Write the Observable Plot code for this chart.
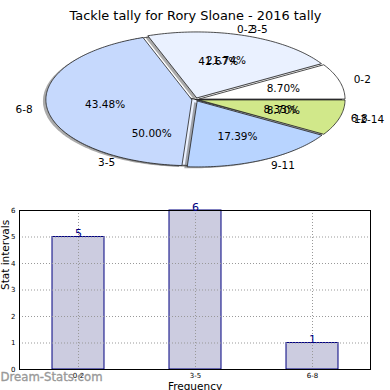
<!DOCTYPE html>
<html><head><meta charset="utf-8">
<script src="https://cdn.jsdelivr.net/npm/d3@7"></script>
<script src="https://cdn.jsdelivr.net/npm/@observablehq/plot@0.6"></script>
<style>
body{margin:0;background:#fff;}
#c{width:390px;height:390px;position:relative;overflow:hidden;}
#c svg{display:block;}
</style>
</head><body><div id="c"></div>
<script>
const title = "Tackle tally for Rory Sloane - 2016 tally";
const pieALabels = ["0-2","3-5","6-8","9-11","12-14"];
const pieAValues = [2,5,10,4,2];
const pieBLabels = ["0-2","3-5","6-8"];
const pieBValues = [5,6,1];
const pieColors = ["#ffffff","#eaf1ff","#c6d9fd","#b8d4ff","#d1e88a"];
const barCategories = ["0-2","3-5","6-8"];
const barValues = [5,6,1];
const yTicks = [0,1,2,3,4,5,6];
const watermark = "Dream-Stats.com";
const yLabel = "Stat intervals";
const xLabel = "Frequency";

function wedges(labels, values, explode) {
  const total = d3.sum(values);
  let start = 0;
  return values.map((v,i) => {
    const a0 = start, a1 = start + v/total*2*Math.PI; start = a1;
    const m = (a0+a1)/2;
    const cx = explode*Math.cos(m), cy = explode*Math.sin(m);
    const pts = [[cx,cy]];
    const n = Math.max(2, Math.ceil((a1-a0)/0.02));
    for (let k=0;k<=n;k++){const a=a0+(a1-a0)*k/n; pts.push([cx+Math.cos(a), cy+Math.sin(a)]);}
    pts.push([cx,cy]);
    return {label: labels[i], pct: (v/total*100).toFixed(2)+"%", color: pieColors[i], pts,
      lx: cx + 1.1*Math.cos(m), ly: cy + 1.1*Math.sin(m),
      px: cx + 0.6*Math.cos(m), py: cy + 0.6*Math.sin(m)};
  });
}

const pieB = wedges(pieBLabels, pieBValues, 0);
const pieA = wedges(pieALabels, pieAValues, 0.025);

const font = "DejaVu Sans";
const pieMarks = [];
for (const pie of [pieB, pieA]) {
  for (const w of pie) {
    pieMarks.push(Plot.line(w.pts, {x: d=>d[0]-0.02, y: d=>d[1]-0.02, fill:"#444", fillOpacity:0.45, stroke:"none"}));
  }
  for (const w of pie) {
    pieMarks.push(Plot.line(w.pts, {x: d=>d[0], y: d=>d[1], fill:w.color, stroke:"#222", strokeWidth:0.8}));
  }
}
const allW = [...pieB, ...pieA];
pieMarks.push(
  Plot.text(allW.filter(w=>w.lx>0), {x:"lx", y:"ly", text:"label", textAnchor:"start", fontSize:10.5, fill:"#000"}),
  Plot.text(allW.filter(w=>w.lx<=0), {x:"lx", y:"ly", text:"label", textAnchor:"end", fontSize:10.5, fill:"#000"}),
  Plot.text(allW, {x:"px", y:"py", text:"pct", fontSize:10.5, fill:"#000"}),
  Plot.text([title], {text:d=>d, frameAnchor:"top", dy:-23, fontSize:12.9, fill:"#000"})
);

const pie = Plot.plot({
  width:390, height:190,
  marginLeft:49, marginRight:49, marginTop:33, marginBottom:25,
  x:{domain:[-1,1], axis:null}, y:{domain:[-1,1], axis:null},
  style:{fontFamily:font, overflow:"visible", background:"transparent"},
  marks: pieMarks
});

const barData = barCategories.map((c,i)=>({cat:c, value:barValues[i]}));
const bars = Plot.plot({
  width:390, height:200,
  marginLeft:19, marginRight:20, marginTop:20, marginBottom:21,
  x:{domain:barCategories, type:"band", paddingInner:0.556, paddingOuter:0.278, label:null},
  y:{domain:[0,6], label:null},
  style:{fontFamily:font, overflow:"visible", background:"transparent"},
  marks:[
    Plot.barY(barData, {x:"cat", y:"value", fill:"#ccccE0", stroke:"#000080", strokeWidth:1}),
    Plot.gridX({stroke:"#999", strokeOpacity:1, strokeDasharray:"1,2"}),
    Plot.gridY(yTicks, {stroke:"#999", strokeOpacity:1, strokeDasharray:"1,2"}),
    Plot.frame({stroke:"#000", strokeWidth:1}),
    Plot.axisX({tickSize:0, tickPadding:4, fontSize:7, label:null}),
    Plot.axisY(yTicks, {tickSize:0, tickPadding:4, fontSize:7, label:null, tickFormat:d=>String(d)}),
    Plot.text(barData, {x:"cat", y:"value", text:d=>String(d.value), fill:"#000080", fontSize:11, lineAnchor:"bottom", dy:0}),
    Plot.text([yLabel], {text:d=>d, frameAnchor:"left", rotate:-90, dx:-14, fontSize:10.5, fill:"#000"}),
    Plot.text([xLabel], {text:d=>d, frameAnchor:"bottom", dy:20, fontSize:10.5, fill:"#000"}),
    Plot.text([watermark], {text:d=>d, frameAnchor:"bottom-left", textAnchor:"start", dx:-19, dy:11, fontSize:11.7, fill:"#999", stroke:"#999", strokeWidth:0.35})
  ]
});

const c = document.getElementById("c");
c.appendChild(pie);
c.appendChild(bars);
</script>
</body></html>
